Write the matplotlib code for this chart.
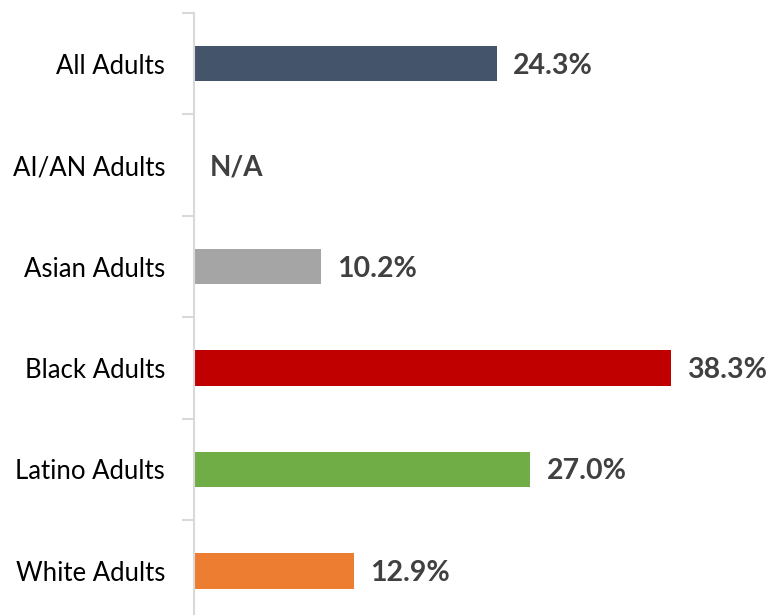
import matplotlib
matplotlib.use("Agg")
import matplotlib.pyplot as plt

# groups from top to bottom, values in percent (None = not available)
groups = ['All Adults', 'AI/AN Adults', 'Asian Adults', 'Black Adults', 'Latino Adults', 'White Adults']
values = [24.3, None, 10.2, 38.3, 27.0, 12.9]
colors = ['#44546A', '#FFFFFF', '#A5A5A5', '#C00000', '#70AD47', '#ED7D31']

plt.rcParams['font.family'] = ['Lato', 'DejaVu Sans']

fig = plt.figure(figsize=(7.69, 6.15), dpi=100)
# axis line sits at x~193px; categories are ~101px tall, starting 13px from the top
ax = fig.add_axes([193.5 / 769, -6.5 / 615, 1 - 193.5 / 769, (615 - 13 + 6.5) / 615])

n = len(groups)
pos = list(range(n))
for i, (v, c) in enumerate(zip(values, colors)):
    if v is None:
        ax.text(1.3, i + 0.02, 'N/A', va='center', ha='left', fontsize=20,
                fontweight='bold', color='#404040')
        continue
    ax.barh(i, v, height=0.35, color=c)
    ax.text(v + 1.3, i + 0.02, f'{v:.1f}%', va='center', ha='left', fontsize=20.5,
            fontweight='bold', color='#404040')

ax.set_xlim(0, (769 - 193.5) / 12.47)
ax.set_ylim(n - 0.5, -0.5)

ax.set_yticks(pos)
ax.set_yticklabels(groups, fontsize=18.5, color='#000000')
ax.tick_params(axis='y', which='major', length=0, pad=20.5)
ax.set_yticks([p - 0.5 for p in range(n + 1)], minor=True)
ax.tick_params(axis='y', which='minor', length=9, width=1.5, color='#D9D9D9')
ax.set_xticks([])

for s in ['top', 'right', 'bottom']:
    ax.spines[s].set_visible(False)
ax.spines['left'].set_color('#D9D9D9')
ax.spines['left'].set_linewidth(1.5)

fig.savefig('out.png', dpi=100)
